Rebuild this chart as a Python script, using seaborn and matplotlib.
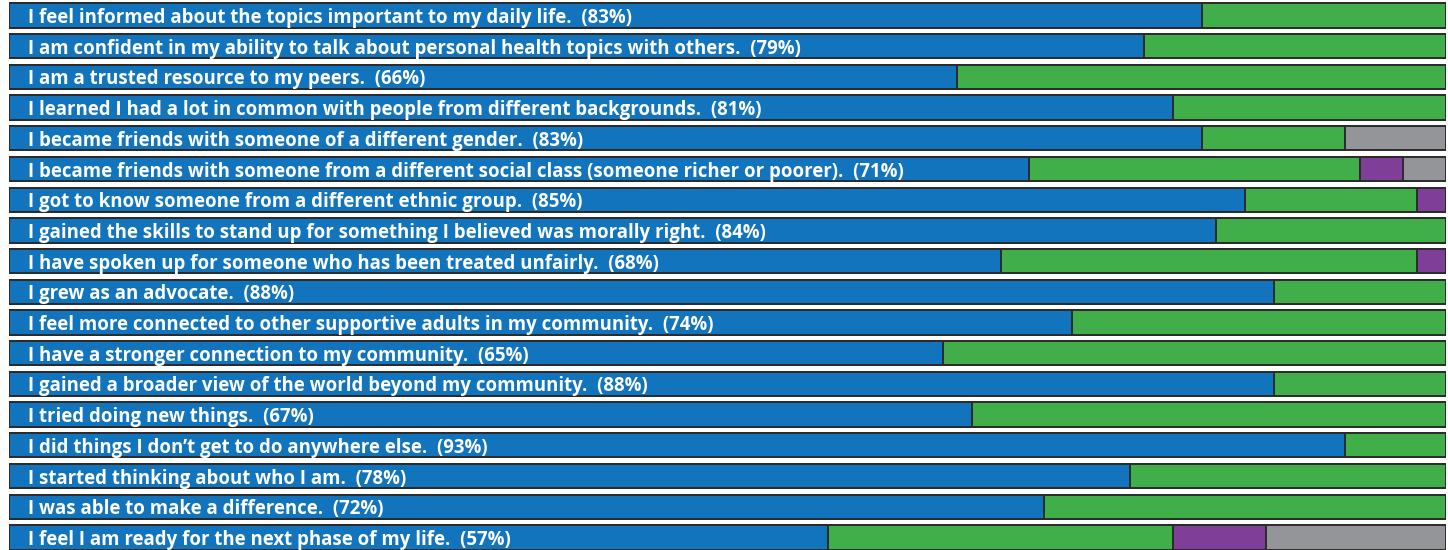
import pandas as pd
import seaborn as sns
import matplotlib.pyplot as plt

# ---- dados
frases = [
    'I feel informed about the topics important to my daily life.  (83%)',
    'I am confident in my ability to talk about personal health topics with others.  (79%)',
    'I am a trusted resource to my peers.  (66%)',
    'I learned I had a lot in common with people from different backgrounds.  (81%)',
    'I became friends with someone of a different gender.  (83%)',
    'I became friends with someone from a different social class (someone richer or poorer).  (71%)',
    'I got to know someone from a different ethnic group.  (85%)',
    'I gained the skills to stand up for something I believed was morally right.  (84%)',
    'I have spoken up for someone who has been treated unfairly.  (68%)',
    'I grew as an advocate.  (88%)',
    'I feel more connected to other supportive adults in my community.  (74%)',
    'I have a stronger connection to my community.  (65%)',
    'I gained a broader view of the world beyond my community.  (88%)',
    'I tried doing new things.  (67%)',
    'I did things I don\u2019t get to do anywhere else.  (93%)',
    'I started thinking about who I am.  (78%)',
    'I was able to make a difference.  (72%)',
    'I feel I am ready for the next phase of my life.  (57%)',
]
azul = [83, 79, 66, 81, 83, 71, 86, 84, 69, 88, 74, 65, 88, 67, 93, 78, 72, 57]
verde = [17, 21, 34, 19, 10, 23, 12, 16, 29, 12, 26, 35, 12, 33, 7, 22, 28, 24]
roxo = [0, 0, 0, 0, 0, 3, 2, 0, 2, 0, 0, 0, 0, 0, 0, 0, 0, 6.5]
cinza = [0, 0, 0, 0, 7, 3, 0, 0, 0, 0, 0, 0, 0, 0, 0, 0, 0, 12.5]

df = pd.DataFrame({'frase': frases, 'azul': azul, 'verde': verde, 'roxo': roxo, 'cinza': cinza})
df['c_azul'] = df['azul']
df['c_verde'] = df['c_azul'] + df['verde']
df['c_roxo'] = df['c_verde'] + df['roxo']
df['c_cinza'] = df['c_roxo'] + df['cinza']

sns.set_style('white')
plt.rcParams['font.family'] = ['Open Sans', 'DejaVu Sans']

W, H = 1448, 550
fig = plt.figure(figsize=(W / 100, H / 100), dpi=100)
ax = fig.add_axes([9 / W, 0, 1437 / W, 1])

cores = [('c_cinza', '#939598'), ('c_roxo', '#7f3f98'), ('c_verde', '#40ae49'), ('c_azul', '#1174bd')]
for col, cor in cores:
    sns.barplot(data=df, x=col, y='frase', color=cor, orient='h', width=0.79,
                edgecolor='#2b2b2b', linewidth=1.4, saturation=1, ax=ax)

# rótulos dentro das barras
for i, txt in enumerate(frases):
    ax.text(1.3, i, txt, color='white', fontweight='bold', fontsize=13.4,
            va='center_baseline', ha='left')

ax.set_xlim(0, 100)
ax.set_ylim(17.41, -0.505)
ax.set_axis_off()

plt.savefig('out.png', dpi=100, facecolor='white')
